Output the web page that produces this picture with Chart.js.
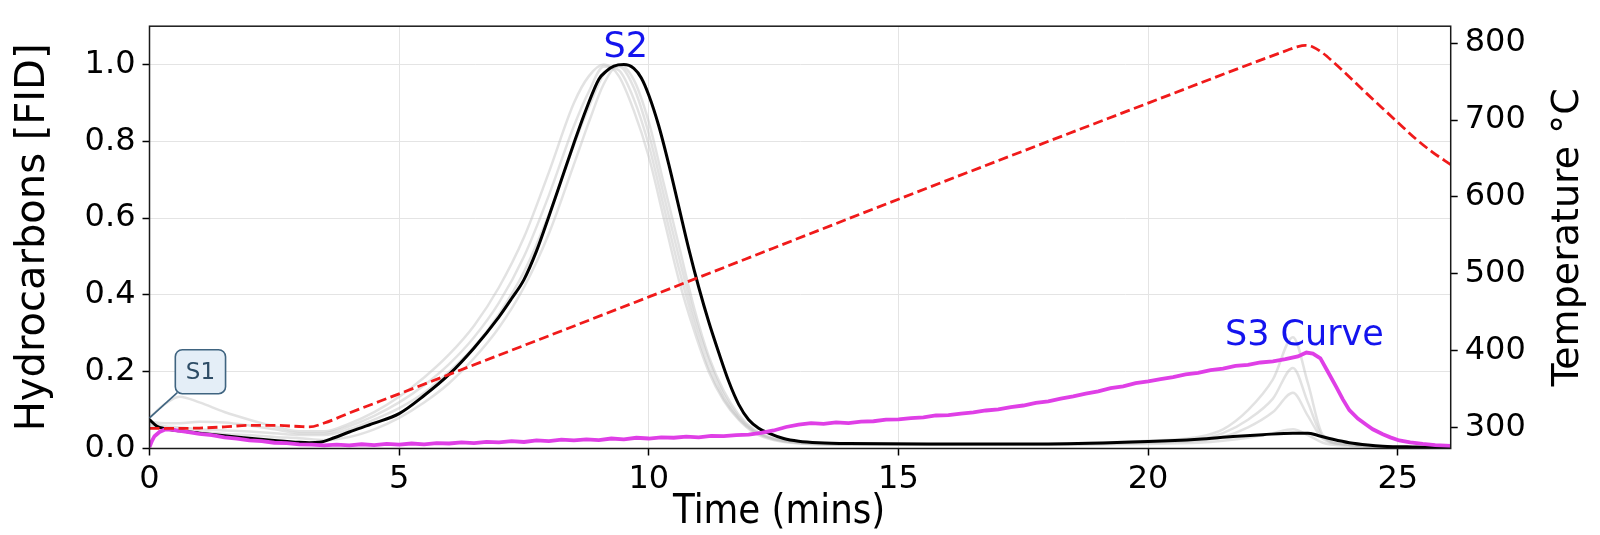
<!DOCTYPE html>
<html>
<head>
<meta charset="utf-8">
<script src="https://cdn.jsdelivr.net/npm/chart.js@4.4.1/dist/chart.umd.min.js"></script>
<style>
  html, body { margin: 0; padding: 0; background: #fff; }
  #wrap { width: 1600px; height: 535px; position: relative; }
</style>
</head>
<body>
<div id="wrap"><canvas id="chart"></canvas></div>
<script>
// tick labels
const timeTicks = [0, 5, 10, 15, 20, 25]
const fidTicks = [0, 0.2, 0.4, 0.6, 0.8, 1.0]
const tempTicks = [300, 400, 500, 600, 700, 800]

// main FID trace (black), normalised
const fidTime = [
  0, 0.15, 0.3, 0.6, 1, 1.5, 2, 2.5, 3, 3.2,
  3.4, 3.7, 4, 4.5, 5, 5.5, 6, 6.5, 7, 7.25,
  7.5, 7.75, 8, 8.25, 8.5, 8.75, 9, 9.15, 9.3, 9.5,
  9.7, 9.85, 10, 10.2, 10.4, 10.6, 10.8, 11, 11.2, 11.4,
  11.6, 11.8, 12, 12.2, 12.4, 12.7, 13, 13.4, 14, 16,
  18, 20, 21, 21.7, 22.3, 22.9, 23.2, 23.4, 23.7, 24.03,
  24.4, 24.7, 25.3, 26.06
]
const fidValues = [
  0.075, 0.058, 0.052, 0.046, 0.04, 0.033, 0.027, 0.021, 0.016, 0.015,
  0.016, 0.028, 0.043, 0.066, 0.091, 0.138, 0.193, 0.262, 0.343, 0.39,
  0.44, 0.514, 0.605, 0.7, 0.795, 0.885, 0.962, 0.983, 0.996, 1.0,
  0.99, 0.965, 0.92, 0.84, 0.74, 0.63, 0.52, 0.42, 0.33, 0.25,
  0.175, 0.115, 0.075, 0.053, 0.04, 0.026, 0.019, 0.015, 0.013, 0.012,
  0.012, 0.018, 0.024, 0.031, 0.036, 0.04, 0.04, 0.034, 0.024, 0.015,
  0.009, 0.006, 0.004, 0.003
]

// oven temperature (red dashed, right axis)
const tempTime = [
  0, 0.5, 1, 1.5, 2, 2.5, 3, 3.2, 3.5, 4,
  5, 10, 15, 20, 22.8, 23.0, 23.15, 23.3, 23.5, 23.7,
  24.0, 24.37, 24.7, 25.0, 25.37, 25.7, 26.06
]
const tempValues = [
  299, 299, 299.5, 301, 303, 303, 301.5, 301, 306, 319,
  344, 470, 597, 722, 791, 795.5, 797, 795, 787, 776,
  758, 735, 715, 697, 675, 658, 642
]

// S3 (CO2) curve, magenta
const s3Time = [
  0, 0.05, 0.1, 0.2, 0.3, 0.4, 0.5, 0.75,
  1, 1.25, 1.5, 1.75, 2, 2.25, 2.5, 2.75, 3, 3.25, 3.5, 3.75,
  4, 4.25, 4.5, 4.75, 5, 5.25, 5.5, 5.75, 6, 6.25, 6.5, 6.75,
  7, 7.25, 7.5, 7.75, 8, 8.25, 8.5, 8.75, 9, 9.25, 9.5, 9.75,
  10, 10.25, 10.5, 10.75, 11, 11.25, 11.5, 11.75, 12, 12.25, 12.5, 12.75,
  13, 13.25, 13.5, 13.75, 14, 14.25, 14.5, 14.75, 15, 15.25, 15.5, 15.75,
  16, 16.25, 16.5, 16.75, 17, 17.25, 17.5, 17.75, 18, 18.25, 18.5, 18.75,
  19, 19.25, 19.5, 19.75, 20, 20.25, 20.5, 20.75, 21, 21.25, 21.5, 21.75,
  22, 22.25, 22.5, 22.75, 23, 23.17, 23.3, 23.45, 23.6, 23.77, 23.9, 24.03,
  24.2, 24.37, 24.5, 24.7, 24.85, 25.03, 25.25, 25.5, 25.75, 26.06
]
const s3Values = [
  0.004, 0.02, 0.032, 0.043, 0.049, 0.05, 0.048, 0.043,
  0.038, 0.035, 0.029, 0.026, 0.021, 0.019, 0.015, 0.014, 0.011, 0.010, 0.008, 0.010,
  0.008, 0.011, 0.009, 0.012, 0.010, 0.013, 0.011, 0.014, 0.013, 0.016, 0.014, 0.017,
  0.016, 0.019, 0.017, 0.021, 0.019, 0.023, 0.021, 0.024, 0.022, 0.026, 0.024, 0.028,
  0.026, 0.029, 0.028, 0.031, 0.029, 0.033, 0.032, 0.035, 0.036, 0.041, 0.047, 0.056,
  0.062, 0.066, 0.064, 0.068, 0.066, 0.070, 0.071, 0.075, 0.076, 0.079, 0.081, 0.086,
  0.087, 0.091, 0.094, 0.099, 0.102, 0.108, 0.112, 0.119, 0.123, 0.130, 0.136, 0.143,
  0.149, 0.157, 0.162, 0.170, 0.175, 0.181, 0.186, 0.193, 0.197, 0.204, 0.208, 0.215,
  0.218, 0.224, 0.227, 0.233, 0.240, 0.250, 0.247, 0.235, 0.200, 0.160, 0.128, 0.100,
  0.078, 0.062, 0.050, 0.037, 0.029, 0.021, 0.016, 0.012, 0.009, 0.007
]

// other samples (light grey)
const greyTime = [
  0, 0.3, 0.6, 1, 1.5, 2, 2.5, 3, 3.5, 4, 4.5, 5,
  5.5, 6, 6.5, 7, 7.5, 8, 8.5, 8.8, 9.1, 9.4, 9.7, 10,
  10.3, 10.6, 10.9, 11.2, 11.5, 11.8, 12.1, 12.5, 13, 14, 16, 18,
  20, 21, 21.5, 22, 22.5, 22.9, 23.2, 23.5, 24, 24.5, 25, 26.06
]
const greyA = [
  0.08, 0.115, 0.135, 0.12, 0.095, 0.075, 0.058, 0.045, 0.045, 0.065, 0.095, 0.135,
  0.185, 0.245, 0.32, 0.42, 0.55, 0.72, 0.9, 0.97, 1.0, 0.97, 0.88, 0.76,
  0.6, 0.44, 0.31, 0.2, 0.125, 0.075, 0.042, 0.022, 0.013, 0.01, 0.01, 0.012,
  0.02, 0.03, 0.05, 0.1, 0.18, 0.29, 0.17, 0.035, 0.01, 0.006, 0.004, 0.003
]
const greyB = [
  0.07, 0.066, 0.066, 0.07, 0.068, 0.06, 0.05, 0.04, 0.04, 0.058, 0.085, 0.12,
  0.165, 0.22, 0.29, 0.38, 0.5, 0.66, 0.84, 0.93, 0.995, 0.985, 0.91, 0.79,
  0.63, 0.47, 0.33, 0.21, 0.13, 0.078, 0.045, 0.024, 0.014, 0.01, 0.01, 0.011,
  0.017, 0.024, 0.04, 0.075, 0.13, 0.21, 0.12, 0.03, 0.01, 0.006, 0.004, 0.003
]
const greyC = [
  0.065, 0.058, 0.055, 0.05, 0.047, 0.044, 0.04, 0.035, 0.035, 0.05, 0.075, 0.105,
  0.145, 0.2, 0.265, 0.35, 0.46, 0.61, 0.79, 0.89, 0.975, 0.995, 0.94, 0.82,
  0.66, 0.5, 0.35, 0.23, 0.14, 0.082, 0.047, 0.025, 0.015, 0.011, 0.01, 0.01,
  0.015, 0.02, 0.03, 0.055, 0.095, 0.145, 0.085, 0.025, 0.01, 0.005, 0.003, 0.002
]
const greyD = [
  0.06, 0.052, 0.048, 0.043, 0.038, 0.035, 0.03, 0.027, 0.022, 0.03, 0.05, 0.08,
  0.12, 0.17, 0.235, 0.315, 0.42, 0.56, 0.74, 0.85, 0.95, 1.0, 0.96, 0.85,
  0.69, 0.53, 0.37, 0.24, 0.15, 0.088, 0.05, 0.026, 0.016, 0.011, 0.01, 0.01,
  0.012, 0.015, 0.02, 0.028, 0.04, 0.05, 0.035, 0.015, 0.007, 0.004, 0.003, 0.002
]

// peak labels, in data coordinates (time, FID)
const peakNames = ["S2", "S3 Curve"]
const peakTime = [9.54, 23.13]
const peakLevel = [1.02, 0.27]
const s1Label = "S1"
const s1Anchor = [1.02, 0.2]
const s1Target = [0, 0.08]

const FONT = "'DejaVu Sans', 'Noto Sans', sans-serif"
const pts = (xs, ys) => xs.map((x, i) => ({ x: x, y: ys[i] }))
const greyLine = (ys) => ({
  data: pts(greyTime, ys),
  borderColor: "rgba(190, 190, 190, 0.45)",
  borderWidth: 2.5,
  pointRadius: 0,
  cubicInterpolationMode: "monotone",
  yAxisID: "y"
})

// frame, peak labels and the S1 box
const overlay = {
  id: "overlay",
  afterDatasetsDraw(chart) {
    const { ctx, chartArea: a } = chart
    const xs = chart.scales.x
    const ys = chart.scales.y
    ctx.save()
    ctx.strokeStyle = "#1a1a1a"
    ctx.lineWidth = 1.5
    ctx.strokeRect(a.left, a.top, a.right - a.left, a.bottom - a.top)

    ctx.fillStyle = "#1414ee"
    ctx.font = "35px " + FONT
    ctx.textAlign = "center"
    ctx.textBaseline = "alphabetic"
    peakNames.forEach((name, i) => {
      ctx.fillText(name, xs.getPixelForValue(peakTime[i]), ys.getPixelForValue(peakLevel[i]))
    })

    // S1 callout
    ctx.font = "23px " + FONT
    const cx = xs.getPixelForValue(s1Anchor[0])
    const cy = ys.getPixelForValue(s1Anchor[1])
    const w = ctx.measureText(s1Label).width + 21
    const h = 44
    const bx = cx - w / 2, by = cy - h / 2
    ctx.strokeStyle = "#3f6480"
    ctx.lineWidth = 1.6
    ctx.beginPath()
    ctx.moveTo(bx + 2, by + h - 1)
    ctx.lineTo(xs.getPixelForValue(s1Target[0]), ys.getPixelForValue(s1Target[1]))
    ctx.stroke()
    ctx.fillStyle = "#e4eef7"
    ctx.beginPath()
    ctx.roundRect(bx, by, w, h, 7)
    ctx.fill()
    ctx.stroke()
    ctx.fillStyle = "#2e4d66"
    ctx.textBaseline = "middle"
    ctx.fillText(s1Label, cx, cy + 1)
    ctx.restore()
  },
  afterDraw(chart) {
    const { ctx, chartArea: a } = chart
    ctx.save()
    ctx.fillStyle = "#000"
    // x title, narrow like the original
    ctx.font = "41px " + FONT
    ctx.textAlign = "center"
    ctx.textBaseline = "alphabetic"
    ctx.translate((a.left + a.right) / 2 - 21, chart.height - 12)
    ctx.scale(0.87, 1)
    ctx.fillText("Time (mins)", 0, 0)
    ctx.restore()

    // right title, reads bottom to top
    ctx.save()
    ctx.fillStyle = "#000"
    ctx.font = "38px " + FONT
    ctx.textAlign = "center"
    ctx.textBaseline = "middle"
    ctx.translate(a.right + 117, (a.top + a.bottom) / 2)
    ctx.rotate(-Math.PI / 2)
    ctx.fillText("Temperature °C", 0, 0)
    ctx.restore()
  }
}

new Chart(document.getElementById("chart"), {
  type: "line",
  data: {
    datasets: [
      {
        data: pts(tempTime, tempValues),
        borderColor: "#f01a1a",
        borderWidth: 2.8,
        borderDash: [10, 4.5],
        pointRadius: 0,
        cubicInterpolationMode: "monotone",
        yAxisID: "y2"
      },
      {
        data: pts(s3Time, s3Values),
        borderColor: "#df3fe6",
        borderWidth: 3.8,
        pointRadius: 0,
        tension: 0,
        yAxisID: "y"
      },
      {
        data: pts(fidTime, fidValues),
        borderColor: "#000",
        borderWidth: 3,
        pointRadius: 0,
        cubicInterpolationMode: "monotone",
        yAxisID: "y"
      },
      greyLine(greyA),
      greyLine(greyB),
      greyLine(greyC),
      greyLine(greyD)
    ]
  },
  options: {
    responsive: true,
    maintainAspectRatio: false,
    animation: false,
    devicePixelRatio: 1,
    layout: { padding: { top: 23, left: 0, right: 0, bottom: 0 } },
    plugins: { legend: { display: false }, tooltip: { enabled: false } },
    scales: {
      x: {
        type: "linear",
        min: 0,
        max: 26.06,
        afterBuildTicks: (s) => { s.ticks = timeTicks.map((v) => ({ value: v })) },
        afterFit: (s) => { s.height = 86.5 },
        border: { display: false },
        grid: { color: "#e4e4e4", lineWidth: 1, tickColor: "#000", tickLength: 7, tickWidth: 1.5 },
        ticks: { autoSkip: false, maxRotation: 0, padding: 5, color: "#000", font: { family: FONT, size: 32 } }
      },
      y: {
        position: "left",
        min: 0,
        max: 1.1,
        afterBuildTicks: (s) => { s.ticks = fidTicks.map((v) => ({ value: v })) },
        afterFit: (s) => { s.width = 149.5 },
        border: { display: false },
        grid: { color: "#e4e4e4", lineWidth: 1, tickColor: "#000", tickLength: 7, tickWidth: 1.5 },
        ticks: { padding: 7, color: "#000", font: { family: FONT, size: 32 }, callback: (v) => v.toFixed(1) },
        title: { display: true, text: "Hydrocarbons [FID]", color: "#000", font: { family: FONT, size: 40 }, padding: { top: 10, bottom: 0 } }
      },
      y2: {
        position: "right",
        min: 272.9,
        max: 822,
        afterBuildTicks: (s) => { s.ticks = tempTicks.map((v) => ({ value: v })) },
        afterFit: (s) => { s.width = 149.3 },
        border: { display: false },
        grid: { drawOnChartArea: false, tickColor: "#000", tickLength: 7, tickWidth: 1.5 },
        ticks: { padding: 7, color: "#000", font: { family: FONT, size: 32 } }
      }
    }
  },
  plugins: [overlay]
})
</script>
</body>
</html>
